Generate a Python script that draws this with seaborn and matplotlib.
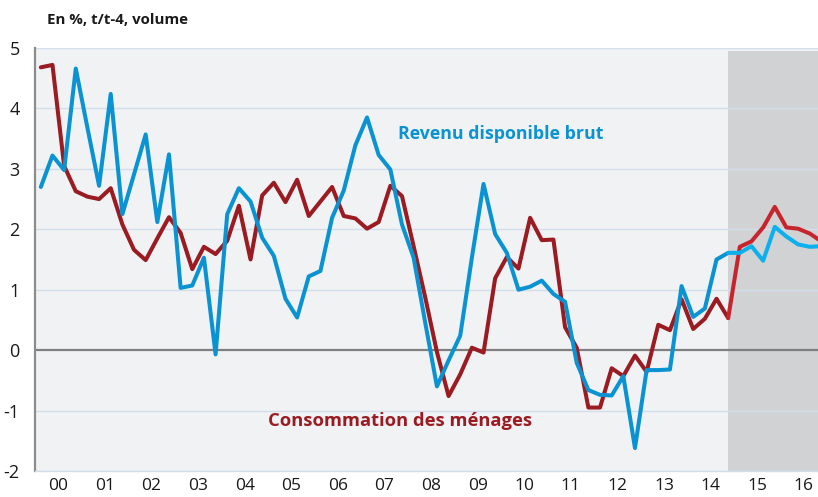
"""
Revenu disponible brut et consommation des ménages, glissement annuel (t/t-4)
"""

import numpy as np
import pandas as pd
import seaborn as sns
import matplotlib.pyplot as plt

# trimestres 2000T1 .. 2016T4
years = [f"{y:02d}" for y in range(0, 17)]
quarters = [f"{2000 + k // 4}T{k % 4 + 1}" for k in range(68)]

revenu = [2.70, 3.22, 2.98, 4.66, 3.68, 2.72, 4.24, 2.25,
          2.91, 3.57, 2.12, 3.24, 1.03, 1.07, 1.53, -0.07,
          2.25, 2.68, 2.46, 1.86, 1.56, 0.85, 0.54, 1.22,
          1.31, 2.19, 2.64, 3.39, 3.85, 3.23, 2.99, 2.08,
          1.53, 0.45, -0.60, -0.17, 0.24, 1.53, 2.75, 1.92,
          1.61, 1.00, 1.05, 1.15, 0.93, 0.80, -0.21, -0.66,
          -0.74, -0.75, -0.43, -1.62, -0.33, -0.33, -0.32, 1.06,
          0.55, 0.69, 1.50, 1.61, 1.61, 1.72, 1.48, 2.04,
          1.88, 1.75, 1.71, 1.72]

consommation = [4.68, 4.72, 3.05, 2.63, 2.54, 2.50, 2.68, 2.08,
                1.66, 1.49, 1.85, 2.20, 1.94, 1.34, 1.71, 1.59,
                1.81, 2.39, 1.50, 2.56, 2.77, 2.45, 2.82, 2.22,
                2.46, 2.70, 2.22, 2.18, 2.01, 2.12, 2.72, 2.55,
                1.72, 0.87, -0.03, -0.76, -0.40, 0.04, -0.04, 1.19,
                1.54, 1.35, 2.19, 1.82, 1.83, 0.38, 0.04, -0.95,
                -0.95, -0.30, -0.43, -0.09, -0.36, 0.42, 0.33, 0.84,
                0.35, 0.52, 0.85, 0.53, 1.71, 1.80, 2.03, 2.37,
                2.03, 2.01, 1.93, 1.80]

first_forecast = "2014T4"   # point de départ de la prévision

df = pd.DataFrame({"trimestre": quarters, "rdb": revenu, "conso": consommation})
df["pos"] = np.arange(len(df)) + 0.5
cut = quarters.index(first_forecast)
hist = df.iloc[:cut + 1]
prev = df.iloc[cut:]

sns.set_style("white")
plt.rcParams["font.family"] = ["Open Sans", "DejaVu Sans"]

fig = plt.figure(figsize=(8.18, 4.97), dpi=100)
ax = fig.add_axes([35 / 818, 26 / 497, 783 / 818, 423 / 497])
ax.set_facecolor("#F1F2F4")

x_end = 783 / 11.65
ax.axvspan(cut + 0.5, x_end, ymin=0, ymax=0.993, color="#D1D2D4", lw=0, zorder=0)

for v in [-2, -1, 1, 2, 3, 4, 5]:
    ax.axhline(v, color="#D2DFEA", lw=1.0, zorder=1)
ax.axhline(0, color="#7F7F7F", lw=1.6, zorder=2)

lw = 2.9
sns.lineplot(data=hist, x="pos", y="rdb", color="#0A93D2", lw=lw, ax=ax, zorder=4)
sns.lineplot(data=hist, x="pos", y="conso", color="#9A1B21", lw=lw, ax=ax, zorder=3)
sns.lineplot(data=prev, x="pos", y="rdb", color="#0BB0EC", lw=lw, ax=ax, zorder=4)
sns.lineplot(data=prev, x="pos", y="conso", color="#C6252D", lw=lw, ax=ax, zorder=3)

ax.set_xlim(0, x_end)
ax.set_ylim(-2, 5)
ax.set_xlabel("")
ax.set_ylabel("")

ax.set_yticks(range(-2, 6))
ax.set_yticklabels([str(v) for v in range(-2, 6)], fontsize=13, color="#1a1a1a")
ax.tick_params(axis="y", length=0, pad=11)

ax.set_xticks(np.arange(4, 68, 4))
ax.set_xticklabels([])
ax.set_xticks(np.arange(2, 68, 4), minor=True)
ax.set_xticklabels(years, minor=True, fontsize=12.5, color="#1a1a1a")
ax.tick_params(axis="x", which="major", length=8, width=1.2, color="#8C8C8C", direction="out")
ax.tick_params(axis="x", which="minor", length=0, pad=5)

for s in ["top", "right"]:
    ax.spines[s].set_visible(False)
ax.spines["left"].set_color("#8C8C8C")
ax.spines["left"].set_linewidth(1.6)
ax.spines["bottom"].set_color("#D2DFEA")
ax.spines["bottom"].set_linewidth(1.0)

fig.text(47 / 818, 1 - 20 / 497, "En %, t/t-4, volume", fontsize=10.8, fontweight="bold",
         color="#1a1a1a", va="center", ha="left")
ax.text(31.2, 3.58, "Revenu disponible brut", fontsize=12.8, fontweight="bold",
        color="#0A93D2", va="center", ha="left")
ax.text(20.0, -1.17, "Consommation des ménages", fontsize=13.2, fontweight="bold",
        color="#9A1B21", va="center", ha="left")

fig.savefig("out.png", dpi=100)
